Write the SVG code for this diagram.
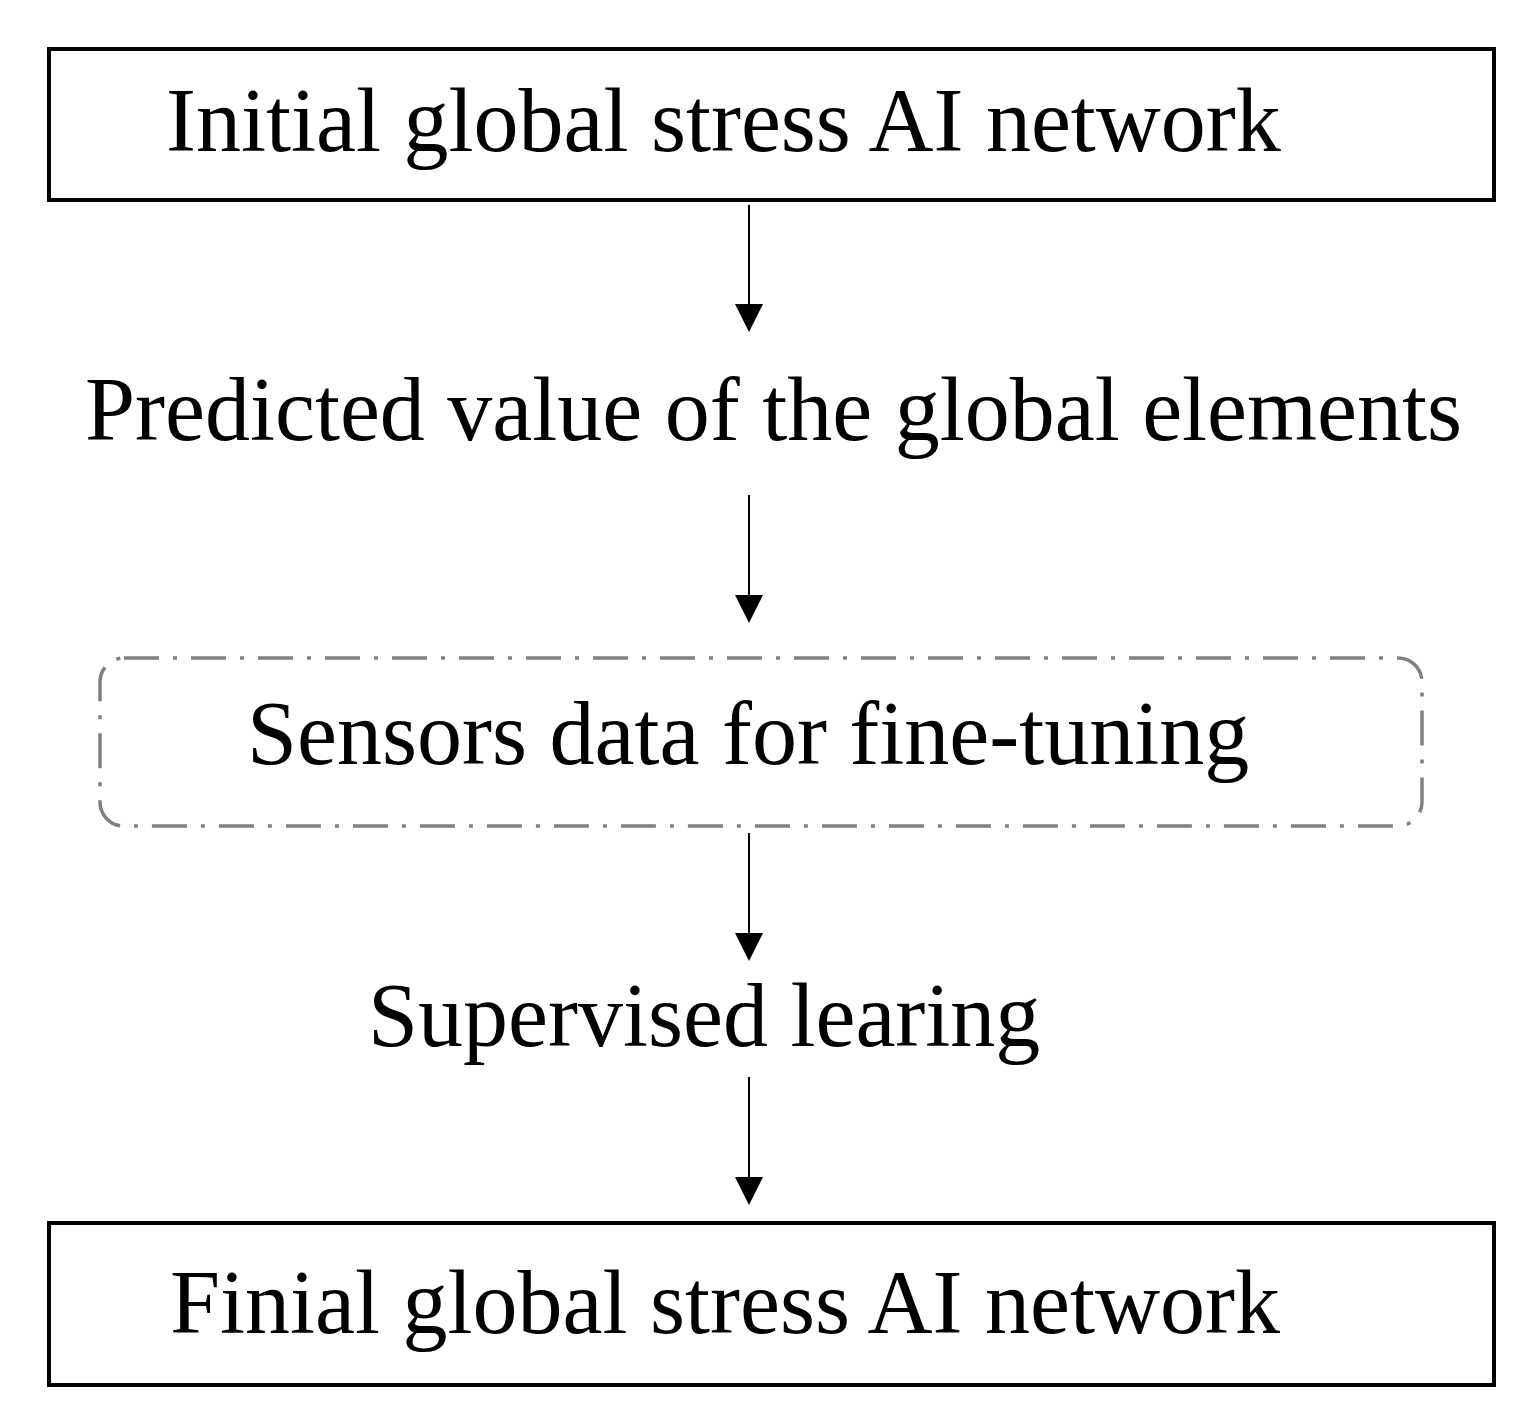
<svg xmlns="http://www.w3.org/2000/svg" width="1535" height="1423" viewBox="0 0 1535 1423">
<style>
.box{fill:#fff;stroke:#000;stroke-width:4}
.dbox{fill:none;stroke:#808080;stroke-width:3.5;stroke-dasharray:35 14 4 14}
.lbl{font-family:"Liberation Serif","Times New Roman",serif;font-size:90px;fill:#000}
.conn line{stroke:#000;stroke-width:2}
.conn path{fill:#000}
</style>
<rect width="1535" height="1423" fill="#fff"/>
<g id="n1"><rect class="box" x="49" y="49" width="1445" height="151"/><text class="lbl" x="166" y="151">Initial global stress AI network</text></g>
<g id="n2"><text class="lbl" x="85" y="440">Predicted value of the global elements</text></g>
<g id="n3"><rect class="dbox" x="100" y="658" width="1322" height="168" rx="24" ry="24"/><text class="lbl" x="247" y="764">Sensors data for fine-tuning</text></g>
<g id="n4"><text class="lbl" x="368" y="1046">Supervised learing</text></g>
<g id="n5"><rect class="box" x="49" y="1223" width="1445" height="162"/><text class="lbl" x="170" y="1333">Finial global stress AI network</text></g>
<g class="conn" id="connectors">
<line x1="749" y1="205" x2="749" y2="305"/><path d="M735,304 L763,304 L749,332 Z"/>
<line x1="749" y1="495" x2="749" y2="596"/><path d="M735,595 L763,595 L749,623 Z"/>
<line x1="749" y1="833" x2="749" y2="934"/><path d="M735,933 L763,933 L749,961 Z"/>
<line x1="749" y1="1077" x2="749" y2="1178"/><path d="M735,1177 L763,1177 L749,1205 Z"/>
</g>
</svg>
